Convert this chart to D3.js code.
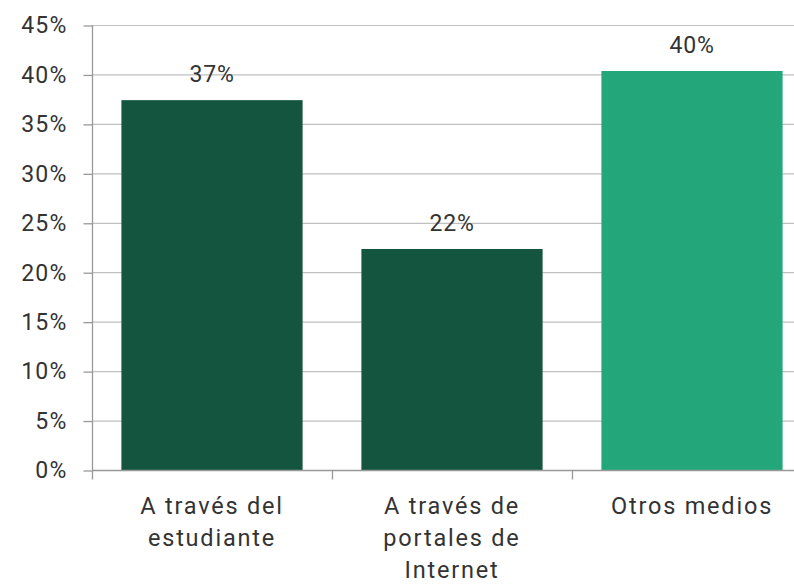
<!DOCTYPE html>
<html><head><meta charset="utf-8">
<script src="https://cdn.jsdelivr.net/npm/d3@7"></script>
<style>body{margin:0;background:#fff;} svg{display:block;}</style>
</head><body>
<svg id="chart" width="794" height="584"></svg>
<script>
const categories = [["A través del","estudiante"],["A través de","portales de","Internet"],["Otros medios"]];
const values = [37.4, 22.35, 40.35];
const labels = ["37%","22%","40%"];
const colors = ["#14553f","#14553f","#23a77a"];
const yTicks = [0,5,10,15,20,25,30,35,40,45];

const svg = d3.select("#chart");
const x0 = 92, x1 = 812, yTop = 25, yBot = 470;
const x = d3.scaleBand().domain(d3.range(categories.length)).range([x0, x1]).paddingInner(0.245).paddingOuter(0.1225);
const y = d3.scaleLinear().domain([0,45]).range([yBot, yTop]);
const font = "Roboto, 'Noto Sans', sans-serif";

// gridlines
svg.append("g").selectAll("line").data(yTicks.filter(d=>d>0)).join("line")
  .attr("x1", x0).attr("x2", 794).attr("y1", d=>y(d)+0.5).attr("y2", d=>y(d)+0.5)
  .attr("stroke", "#c0c0c0").attr("stroke-width", 1.2);

// y axis
const yAxis = d3.axisLeft(y).tickValues(yTicks).tickFormat(d=>d+"%").tickSize(9).tickPadding(16);
const gy = svg.append("g").attr("transform", `translate(${x0+0.5},0.5)`).call(yAxis);
gy.select(".domain").attr("stroke","#999").attr("stroke-width",1.3).attr("d", `M0,${yTop}V${yBot}`);
gy.selectAll(".tick line").attr("stroke","#999").attr("stroke-width",1.3);
gy.selectAll(".tick text").attr("fill","#333").style("font-family",font).style("font-size","23px").style("letter-spacing","1.2px");

// bars
svg.append("g").selectAll("rect").data(values).join("rect")
  .attr("x",(d,i)=>x(i)).attr("width",x.bandwidth())
  .attr("y",d=>y(d)).attr("height",d=>yBot-y(d))
  .attr("fill",(d,i)=>colors[i]);

// x axis
const gx = svg.append("g").attr("transform",`translate(0,${yBot+0.5})`);
gx.append("line").attr("x1",x0).attr("x2",794).attr("stroke","#999").attr("stroke-width",1.3);
const bounds = [0,1,2].map(i=>x(i)-x.step()*x.paddingInner()/2);
gx.selectAll("line.tk").data(bounds).join("line").attr("class","tk")
  .attr("x1",d=>d+0.5).attr("x2",d=>d+0.5).attr("y1",0).attr("y2",9)
  .attr("stroke","#999").attr("stroke-width",1.3);

// category labels
categories.forEach((lines,i)=>{
  const t = svg.append("text").attr("text-anchor","middle").attr("fill","#333")
    .style("font-family",font).style("font-size","23.5px").style("letter-spacing","1.8px");
  lines.forEach((ln,j)=>{
    t.append("tspan").attr("x", x(i)+x.bandwidth()/2).attr("y", 514 + j*32).text(ln);
  });
});

// value labels
svg.append("g").selectAll("text").data(values).join("text")
  .attr("x",(d,i)=>x(i)+x.bandwidth()/2).attr("y",d=>y(d)-18)
  .attr("text-anchor","middle").attr("fill","#333")
  .style("font-family",font).style("font-size","23px").style("letter-spacing","0.8px")
  .text((d,i)=>labels[i]);
</script>
</body></html>
